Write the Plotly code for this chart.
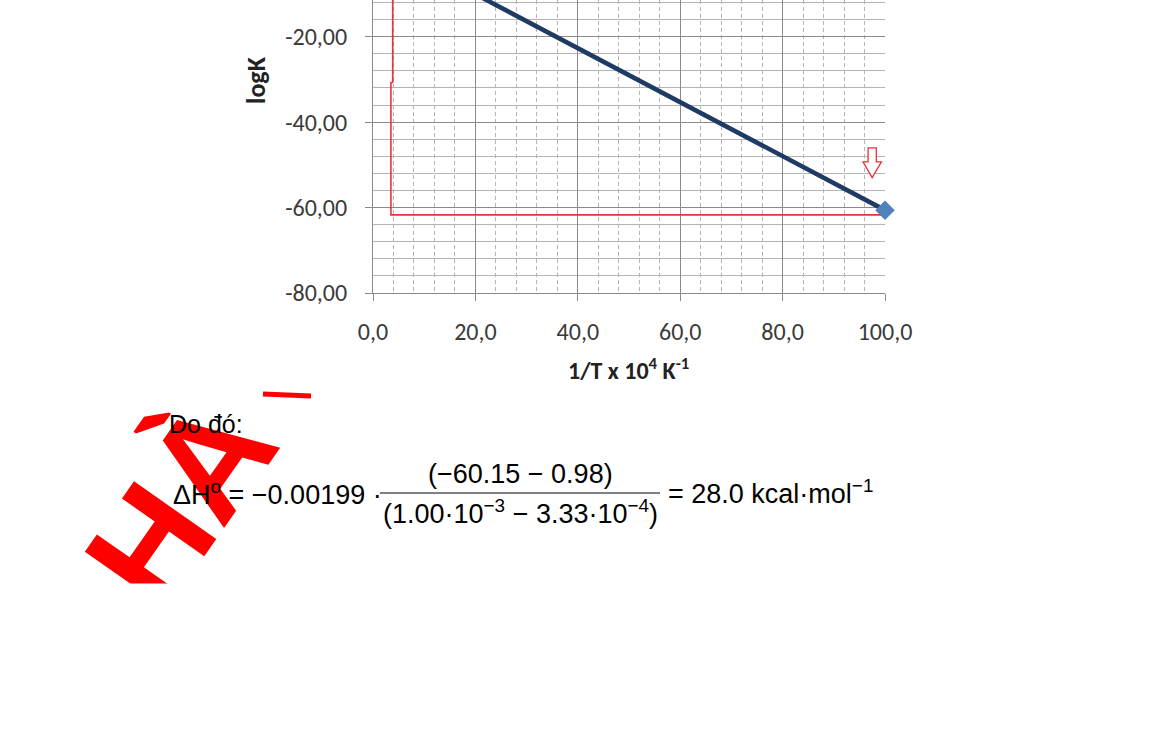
import plotly.graph_objects as go

# ---------------- data ----------------
line_x = [3.33, 100.0]          # 1/T x 10^4
line_y = [0.5, -60.6]           # logK
red_x = [3.85, 3.85, 3.5, 3.5, 100.0]
red_y = [-5.0, -30.7, -30.7, -61.7, -61.7]
x_tickvals = [0, 20, 40, 60, 80, 100]
x_ticktext = ["0,0", "20,0", "40,0", "60,0", "80,0", "100,0"]
y_tickvals = [-80, -60, -40, -20]
y_ticktext = ["-80,00", "-60,00", "-40,00", "-20,00"]
arrow_x, arrow_top, arrow_head, arrow_bottom = 97.5, -46.0, -49.3, -53.0
arrow_half_head, arrow_half_shaft = 1.8, 0.8

# ---------------- layout geometry (pixels) ----------------
W, H = 1162, 748
L, R, T, B = 373, 885, 0, 293   # plot area in pixels


def px(x):
    return (x - L) / (R - L)


def py(y):
    return (B - y) / (B - T)


fig = go.Figure()
fig.add_trace(go.Scatter(x=red_x, y=red_y, mode="lines",
                         line=dict(color="#e8323c", width=1.6),
                         hoverinfo="skip", showlegend=False))
fig.add_trace(go.Scatter(x=line_x, y=line_y, mode="lines+markers",
                         line=dict(color="#1f3b63", width=4.5),
                         marker=dict(symbol="diamond", size=15, color="#4f81bd"),
                         cliponaxis=False, showlegend=False))

# outline down arrow
ax = arrow_x
arrow_path = (f"M {ax-arrow_half_shaft},{arrow_top} L {ax+arrow_half_shaft},{arrow_top} "
              f"L {ax+arrow_half_shaft},{arrow_head} L {ax+arrow_half_head},{arrow_head} "
              f"L {ax},{arrow_bottom} L {ax-arrow_half_head},{arrow_head} "
              f"L {ax-arrow_half_shaft},{arrow_head} Z")
fig.add_shape(type="path", path=arrow_path, xref="x", yref="y",
              line=dict(color="#e8323c", width=1.3), fillcolor="white")

tick_font = dict(family="Carlito, Lato, 'Liberation Sans', sans-serif", size=24, color="#3a3a3a")
fig.update_xaxes(range=[0, 100], tickvals=x_tickvals, ticktext=x_ticktext,
                 showgrid=True, gridcolor="#8a8a8a", gridwidth=1,
                 showline=True, linecolor="#8a8a8a", linewidth=1,
                 ticks="outside", ticklen=7, tickcolor="#8a8a8a",
                 ticklabelstandoff=10, tickfont=tick_font, zeroline=False,
                 minor=dict(dtick=4, tick0=0, showgrid=True, gridcolor="#b4b4b4",
                            griddash="4px,3px", gridwidth=1, ticks=""))
fig.update_yaxes(range=[-80, -11.4], tickvals=y_tickvals, ticktext=y_ticktext,
                 showgrid=True, gridcolor="#8a8a8a", gridwidth=1,
                 showline=True, linecolor="#8a8a8a", linewidth=1,
                 ticks="outside", ticklen=7, tickcolor="#8a8a8a",
                 ticklabelstandoff=13, tickfont=tick_font, zeroline=False,
                 minor=dict(dtick=4, tick0=-80, showgrid=True, gridcolor="#b4b4b4",
                            gridwidth=1, ticks=""))

ann = []
title_font = dict(family="Carlito, Lato, 'Liberation Sans', sans-serif", size=24, color="#222")
ann.append(dict(x=px(628), y=py(369), text="<b>1/T x 10<sup>4</sup> K<sup>-1</sup></b>",
                font=title_font))
ann.append(dict(x=px(256), y=py(80), text="<b>logK</b>", textangle=-90,
                font=dict(family=title_font["family"], size=26, color="#222")))

# watermark (drawn first so that the formula text sits on top of it)
ann.append(dict(x=px(180), y=py(502), text="<b>HÀ</b>", textangle=-55,
                font=dict(family="Liberation Sans, Arial, sans-serif", size=146, color="#ff0000")))
# white boxes that clip the watermark
ann.append(dict(x=px(0), y=py(583), xanchor="left", yanchor="top", text=" ",
                width=330, height=160, bgcolor="white", borderpad=0))
ann.append(dict(x=px(140), y=py(373), xanchor="left", yanchor="bottom", text=" ",
                width=130, height=50, bgcolor="white", borderpad=0))

fam = "'Liberation Sans', Arial, sans-serif"
ffont = dict(family=fam, size=27, color="black")
ann.append(dict(x=px(167), y=py(424), xanchor="left", text="Do đó:", font=dict(family=fam, size=25, color="black")))
ann.append(dict(x=px(171), y=py(493), xanchor="left", text="ΔH<sup>o</sup> = −0.00199 ·", font=ffont))
ann.append(dict(x=px(520), y=py(474), text="(−60.15 − 0.98)", font=ffont))
ann.append(dict(x=px(520), y=py(512), text="(1.00·10<sup>−3</sup> − 3.33·10<sup>−4</sup>)", font=ffont))
ann.append(dict(x=px(666), y=py(492), xanchor="left", text="= 28.0 kcal·mol<sup>−1</sup>", font=ffont))

for a in ann:
    a.setdefault("xref", "paper")
    a.setdefault("yref", "paper")
    a.setdefault("xanchor", "center")
    a.setdefault("yanchor", "middle")
    a.setdefault("showarrow", False)
fig.update_layout(annotations=ann)

# fraction bar and watermark fragment
fig.add_shape(type="line", xref="paper", yref="paper", x0=px(380), x1=px(660),
              y0=py(493), y1=py(493), line=dict(color="black", width=1.2))
fig.add_shape(type="line", xref="paper", yref="paper", x0=px(263), x1=px(311),
              y0=py(394), y1=py(396), line=dict(color="#ff0000", width=5))

fig.update_layout(width=W, height=H, margin=dict(l=L, r=W - R, t=T, b=H - B),
                  paper_bgcolor="white", plot_bgcolor="white", showlegend=False)

fig.write_html("out.html", config={"displayModeBar": False},
               post_script="document.body.style.margin='0';")
